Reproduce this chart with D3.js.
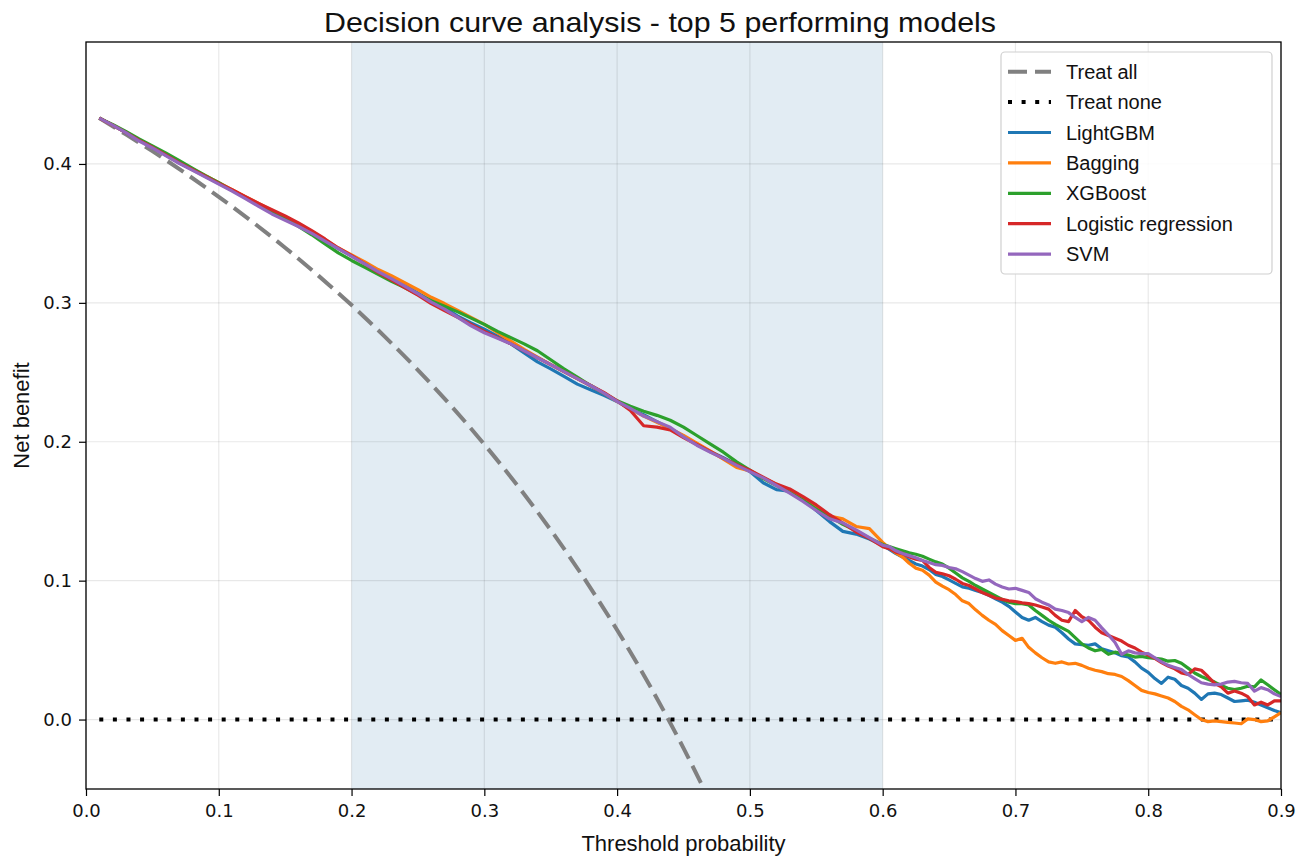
<!DOCTYPE html>
<html><head><meta charset="utf-8">
<script src="https://cdn.jsdelivr.net/npm/d3@7"></script>
<style>html,body{margin:0;padding:0;background:#fff;} svg{display:block}</style>
</head><body><svg id="c" width="1307" height="857"></svg>
<script>
const thresholds = [
0.01,0.02,0.03,0.04,0.05,0.06,0.07,0.08,0.09,0.10,
0.11,0.12,0.13,0.14,0.15,0.16,0.17,0.18,0.19,0.20,
0.21,0.22,0.23,0.24,0.25,0.26,0.27,0.28,0.29,0.30,
0.31,0.32,0.33,0.34,0.35,0.36,0.37,0.38,0.39,0.40,
0.41,0.42,0.43,0.44,0.45,0.46,0.47,0.48,0.49,0.50,
0.51,0.52,0.53,0.54,0.55,0.56,0.57,0.58,0.59,0.60,
0.605,0.61,0.615,0.62,0.625,0.63,0.635,0.64,0.645,0.65,
0.655,0.66,0.665,0.67,0.675,0.68,0.685,0.69,0.695,0.70,
0.705,0.71,0.715,0.72,0.725,0.73,0.735,0.74,0.745,0.75,
0.755,0.76,0.765,0.77,0.775,0.78,0.785,0.79,0.795,0.80,
0.805,0.81,0.815,0.82,0.825,0.83,0.835,0.84,0.845,0.85,
0.855,0.86,0.865,0.87,0.875,0.88,0.885,0.89,0.895,0.90];

const lightgbm = [
.433,.428,.4225,.417,.412,.4065,.401,.396,.391,.386,
.381,.376,.371,.366,.3615,.3565,.351,.345,.339,.334,
.3285,.3235,.318,.3125,.307,.3015,.2965,.2905,.2855,.281,
.276,.2705,.264,.2575,.2525,.247,.2415,.2375,.2335,.229,
.2235,.2195,.2145,.2095,.204,.1985,.193,.1885,.1835,.1785,
.1705,.1655,.1645,.1585,.1505,.1425,.1355,.1335,.130,.1255,
.1225,.1195,.117,.1145,.112,.1105,.108,.1045,.103,.1005,
.098,.0955,.0945,.093,.0915,.0895,.087,.0845,.0815,.0775,
.0735,.0715,.0735,.0705,.068,.0665,.0625,.058,.0545,.054,
.0535,.0545,.051,.0495,.048,.046,.045,.0415,.037,.034,
.0295,.026,.0305,.029,.0245,.0225,.019,.0145,.0185,.019,
.018,.0155,.013,.0135,.014,.0125,.0105,.0085,.0065,.005];

const bagging = [
.433,.428,.423,.4175,.4125,.407,.4015,.3965,.3915,.3865,
.3815,.3765,.3715,.3665,.3615,.3565,.3515,.3455,.3395,.3345,
.3295,.324,.3195,.3145,.3095,.304,.2995,.2945,.2895,.2845,
.2785,.2725,.2665,.261,.2555,.2505,.2455,.2405,.235,.229,
.2235,.2185,.214,.2095,.2045,.199,.1935,.1875,.1815,.179,
.174,.1695,.1645,.159,.1525,.1465,.1445,.139,.1375,.1275,
.1235,.120,.117,.1125,.109,.1075,.104,.099,.096,.0935,
.090,.0855,.0835,.079,.075,.0715,.0685,.064,.0605,.057,
.0585,.052,.048,.0445,.0415,.0405,.0415,.040,.0405,.039,
.037,.0355,.0345,.033,.0325,.031,.028,.0245,.021,.0195,
.0185,.017,.0155,.013,.0095,.007,.0035,.0,-.0015,-.001,
-.0015,-.002,-.0025,-.003,.0005,.0,-.0015,-.001,.002,.005];

const xgboost = [
.433,.4285,.4235,.418,.413,.408,.4025,.397,.3915,.3865,
.381,.376,.3705,.3655,.3605,.355,.349,.3425,.336,.3305,
.3255,.3205,.3155,.311,.306,.3015,.2975,.2935,.289,.2845,
.2795,.275,.2705,.2655,.259,.2525,.2465,.2405,.235,.2295,
.2255,.222,.219,.2155,.2105,.2045,.1985,.1925,.1855,.1795,
.1735,.1685,.1635,.158,.1515,.1465,.1405,.136,.1305,.126,
.1245,.123,.1215,.120,.119,.1175,.1155,.1135,.112,.109,
.1055,.102,.0995,.0965,.094,.0915,.089,.0865,.0845,.0835,
.0835,.0825,.0785,.075,.0715,.0685,.066,.0635,.059,.0545,
.0515,.0495,.0505,.047,.0485,.0475,.0465,.045,.0455,.0445,
.044,.0435,.042,.0425,.0405,.037,.0335,.031,.029,.027,
.0245,.0225,.0215,.0225,.024,.0235,.0285,.025,.0215,.018];

const logreg = [
.433,.428,.4225,.417,.412,.4065,.401,.396,.391,.386,
.3815,.3765,.3715,.367,.3625,.3575,.352,.346,.3395,.334,
.328,.322,.3165,.311,.3055,.2995,.2945,.2895,.2845,.2795,
.275,.2705,.2655,.2605,.2555,.2505,.2455,.2405,.2355,.2295,
.2225,.2115,.2105,.2085,.203,.198,.193,.188,.1835,.1795,
.1745,.1695,.166,.1605,.1545,.1475,.1415,.135,.1305,.1245,
.123,.1205,.1195,.117,.1155,.1145,.1095,.106,.105,.1035,
.101,.098,.0965,.094,.0915,.0895,.0875,.0865,.0855,.085,
.084,.0835,.0825,.081,.0795,.075,.0715,.0705,.0785,.074,
.0715,.0665,.0625,.0605,.0585,.0565,.0535,.0515,.0485,.0465,
.044,.041,.0385,.0365,.0335,.0325,.0365,.0355,.031,.026,
.0235,.019,.0205,.019,.0165,.0105,.0125,.0105,.0135,.0135];

const svm = [
.433,.428,.4225,.4165,.4115,.406,.4005,.3955,.3905,.3855,
.3805,.375,.3695,.364,.3595,.355,.350,.3445,.339,.3335,
.328,.3225,.3175,.312,.3065,.3005,.2955,.2895,.2835,.2785,
.2745,.2705,.2655,.2605,.2555,.2505,.2455,.2405,.235,.229,
.224,.2185,.2145,.2105,.2035,.1975,.1925,.188,.183,.1785,
.174,.1685,.163,.157,.1505,.1445,.1415,.1365,.131,.1255,
.1245,.1215,.1195,.118,.1165,.1145,.113,.1115,.111,.1095,
.1085,.1065,.104,.1015,.0995,.1005,.0975,.0955,.094,.0945,
.093,.0915,.087,.0845,.0825,.0795,.0785,.077,.0735,.0705,
.0735,.0715,.066,.061,.0555,.047,.0495,.048,.0475,.0475,
.0445,.0415,.039,.0375,.036,.0325,.0295,.0265,.0255,.025,
.0255,.027,.0275,.0265,.026,.0205,.023,.0215,.0185,.0165];

const treatAllX = [0.01,0.03,0.05,0.075,0.10,0.125,0.15,0.175,0.20,0.225,0.25,0.275,0.30,0.325,0.35,0.375,0.40,0.425,0.45,0.475];
const treatAllY = [0.4330,0.4213,0.4092,0.3932,0.3763,0.3585,0.3397,0.3196,0.2984,0.2757,0.2516,0.2258,0.1981,0.1684,0.1365,0.1019,0.0645,0.0238,-0.0206,-0.0691];
const treatNoneX = [0.01, 0.90];
const treatNoneY = [0, 0];

const xTicks = [0,0.1,0.2,0.3,0.4,0.5,0.6,0.7,0.8,0.9];
const xTickLabels = ["0.0","0.1","0.2","0.3","0.4","0.5","0.6","0.7","0.8","0.9"];
const yTicks = [0,0.1,0.2,0.3,0.4];
const yTickLabels = ["0.0","0.1","0.2","0.3","0.4"];
const shadeRange = [0.2, 0.6];
const seriesNames = ["LightGBM","Bagging","XGBoost","Logistic regression","SVM"];
const seriesValues = [lightgbm, bagging, xgboost, logreg, svm];
const seriesColors = ["#1f77b4","#ff7f0e","#2ca02c","#d62728","#9467bd"];
const titleText = "Decision curve analysis - top 5 performing models";
const xLabel = "Threshold probability";
const yLabel = "Net benefit";

const L = 86, R = 1281, T = 42, B = 789;
const x = d3.scaleLinear().domain([0, 0.9]).range([L, R]);
const y = d3.scaleLinear().domain([-0.05, 0.4878]).range([B, T]);
const svg = d3.select("#c");
const sans = "'Liberation Sans', Arial, Helvetica, sans-serif";
const dv = "'DejaVu Sans', sans-serif";

svg.append("defs").append("clipPath").attr("id","clip")
  .append("rect").attr("x",L).attr("y",T).attr("width",R-L).attr("height",B-T);

// shaded region
svg.append("rect").attr("x", x(shadeRange[0])).attr("y", T)
  .attr("width", x(shadeRange[1]) - x(shadeRange[0])).attr("height", B - T)
  .attr("fill", "#e2ecf3");

// grid
const g = svg.append("g");
g.selectAll("line.vx").data(xTicks).enter().append("line")
  .attr("x1", d => x(d)).attr("x2", d => x(d)).attr("y1", T).attr("y2", B)
  .attr("stroke", "rgba(0,0,0,0.09)").attr("stroke-width", 1.2);
g.selectAll("line.hy").data(yTicks).enter().append("line")
  .attr("x1", L).attr("x2", R).attr("y1", d => y(d)).attr("y2", d => y(d))
  .attr("stroke", "rgba(0,0,0,0.09)").attr("stroke-width", 1.2);

const plot = svg.append("g").attr("clip-path","url(#clip)");
const line = d3.line().x(d => x(d[0])).y(d => y(d[1]));

plot.append("path").datum(d3.zip(treatAllX, treatAllY))
  .attr("d", d3.line().x(d => x(d[0])).y(d => y(d[1])).curve(d3.curveMonotoneX))
  .attr("fill","none").attr("stroke","#808080").attr("stroke-width",4)
  .attr("stroke-dasharray","19,8");

plot.append("path").datum(d3.zip(treatNoneX, treatNoneY))
  .attr("d", line).attr("fill","none").attr("stroke","#000").attr("stroke-width",4)
  .attr("stroke-dasharray","4,9.6");

seriesValues.forEach((vals, i) => {
  plot.append("path").datum(d3.zip(thresholds, vals))
    .attr("d", line).attr("fill","none").attr("stroke", seriesColors[i])
    .attr("stroke-width", 3.2).attr("stroke-linejoin","round");
});

// axes
const xAxis = d3.axisBottom(x).tickValues(xTicks).tickFormat((d,i) => xTickLabels[i])
  .tickSize(7).tickPadding(8).tickSizeOuter(0);
const yAxis = d3.axisLeft(y).tickValues(yTicks).tickFormat((d,i) => yTickLabels[i])
  .tickSize(7).tickPadding(7).tickSizeOuter(0);
const xa = svg.append("g").attr("transform", `translate(0,${B})`).call(xAxis);
const ya = svg.append("g").attr("transform", `translate(${L},0)`).call(yAxis);
[xa, ya].forEach(a => {
  a.select(".domain").remove();
  a.selectAll(".tick line").attr("stroke","#000").attr("stroke-width",1.2);
  a.selectAll(".tick text").attr("font-family", dv).attr("font-size", 18).attr("fill","#111");
});

// frame
svg.append("rect").attr("x", L).attr("y", T).attr("width", R-L).attr("height", B-T)
  .attr("fill","none").attr("stroke","#000").attr("stroke-width",1.3);

// title and labels
svg.append("text").attr("x", 660).attr("y", 32).attr("text-anchor","middle")
  .attr("font-family", sans).attr("font-size", 28).attr("fill","#111")
  .attr("textLength", 672).attr("lengthAdjust","spacingAndGlyphs").text(titleText);
svg.append("text").attr("x", (L+R)/2).attr("y", 851).attr("text-anchor","middle")
  .attr("font-family", sans).attr("font-size", 22).attr("fill","#111").text(xLabel);
svg.append("text").attr("transform", `translate(29,${(T+B)/2}) rotate(-90)`)
  .attr("text-anchor","middle").attr("font-family", sans).attr("font-size", 22)
  .attr("fill","#111").text(yLabel);

// legend
const lg = svg.append("g");
lg.append("rect").attr("x", 1001).attr("y", 52).attr("width", 271).attr("height", 222)
  .attr("rx", 4).attr("fill","rgba(255,255,255,0.85)").attr("stroke","#d0d0d0").attr("stroke-width",1.2);
const legendItems = [
  {name:"Treat all", color:"#808080", dash:"19,8", w:4},
  {name:"Treat none", color:"#000", dash:"4,9.6", w:4},
].concat(seriesNames.map((n,i) => ({name:n, color:seriesColors[i], dash:null, w:3.2})));
legendItems.forEach((it, i) => {
  const yy = 71.7 + i * 30.4;
  const ln = lg.append("line").attr("x1", 1008).attr("x2", 1051).attr("y1", yy).attr("y2", yy)
    .attr("stroke", it.color).attr("stroke-width", it.w);
  if (it.dash) ln.attr("stroke-dasharray", it.dash);
  lg.append("text").attr("x", 1066).attr("y", yy).attr("dy","0.35em")
    .attr("font-family", sans).attr("font-size", 20).attr("fill","#111").text(it.name);
});
</script></body></html>
